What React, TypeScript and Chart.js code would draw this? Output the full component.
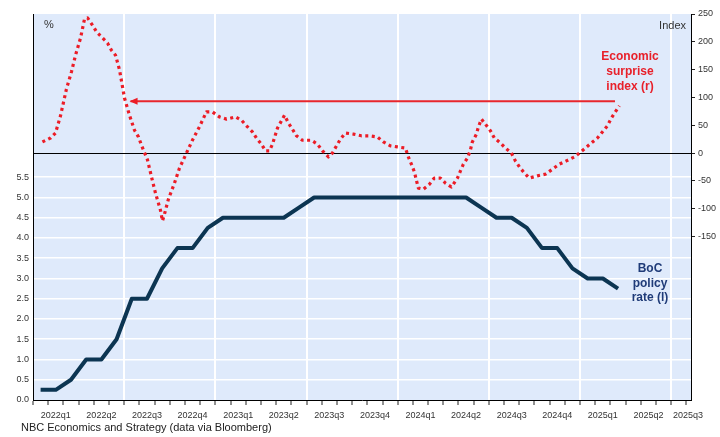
import { useEffect, useRef } from 'react';
import { Chart, registerables } from 'chart.js';

Chart.register(...registerables);

// ---- data (x positions are months since Jan 2022) ----
const quarterLabels = [
  '2022q1', '2022q2', '2022q3', '2022q4',
  '2023q1', '2023q2', '2023q3', '2023q4',
  '2024q1', '2024q2', '2024q3', '2024q4',
  '2025q1', '2025q2', '2025q3',
];

// BoC policy rate, monthly (Jan 2022 .. Mar 2025), plotted mid-month
const policyMonths = Array.from({ length: 39 }, (_, i) => i + 0.5);
const policyRate = [
  0.25, 0.25, 0.5, 1.0, 1.0, 1.5, 2.5, 2.5, 3.25, 3.75, 3.75, 4.25,
  4.5, 4.5, 4.5, 4.5, 4.5, 4.75, 5.0, 5.0, 5.0, 5.0, 5.0, 5.0,
  5.0, 5.0, 5.0, 5.0, 5.0, 4.75, 4.5, 4.5, 4.25, 3.75, 3.75, 3.25,
  3.0, 3.0, 2.75,
];

// Economic surprise index
const surpriseMonths = [
  0.62, 1.15, 1.48, 1.81, 2.2, 2.53, 2.8, 3.13, 3.39, 3.59,
  3.91, 4.18, 4.5, 4.9, 5.16, 5.43, 5.69, 6.02, 6.35, 6.68,
  6.94, 7.14, 7.53, 7.8, 8.06, 8.39, 8.52, 8.65, 8.91, 9.31,
  9.64, 10.1, 10.49, 10.95, 11.41, 11.81, 12.27, 12.73, 13.32, 13.72,
  14.05, 14.44, 14.7, 15.03, 15.3, 15.56, 15.76, 16.09, 16.35, 16.55,
  16.81, 17.07, 17.34, 17.73, 18.32, 18.72, 19.05, 19.44, 19.7, 20.23,
  20.56, 21.09, 21.61, 22.14, 22.66, 23.06, 23.52, 23.98, 24.51, 24.7,
  24.9, 25.1, 25.23, 25.36, 25.69, 26.09, 26.41, 26.81, 27.14, 27.53,
  27.66, 27.93, 28.13, 28.32, 28.59, 28.78, 28.91, 29.18, 29.31, 29.51,
  29.77, 30.1, 30.36, 30.76, 31.09, 31.48, 31.74, 32.01, 32.34, 32.66,
  33.19, 33.72, 34.18, 34.64, 35.1, 35.63, 35.95, 36.35, 36.74, 37.14,
  37.47, 37.8, 38.06, 38.32, 38.59,
];
const surpriseIndex = [
  20, 27, 36, 67, 115, 146, 176, 207, 241, 243,
  230, 218, 209, 198, 185, 176, 150, 99, 68, 41,
  29, 14, -12, -43, -72, -103, -122, -110, -83, -54,
  -27, 0, 23, 47, 74, 74, 65, 61, 65, 59,
  49, 38, 27, 16, 4, 4, 16, 45, 58, 68,
  54, 43, 31, 23, 23, 16, 4, -7, 0, 25,
  36, 34, 31, 31, 29, 20, 13, 11, 9, -7,
  -20, -34, -49, -63, -65, -56, -45, -45, -54, -61,
  -56, -45, -32, -20, -9, 5, 20, 34, 47, 61,
  52, 40, 27, 18, 9, 0, -14, -25, -36, -45,
  -41, -38, -29, -20, -14, -7, 0, 9, 18, 27,
  38, 49, 63, 74, 85,
];

// arrow (from latest reading back to the same level)
const arrowMonths = [38.3, 6.42];
const arrowLevel = 93;

const leftTicks = [0, 0.5, 1, 1.5, 2, 2.5, 3, 3.5, 4, 4.5, 5, 5.5];
const rightTicks = [-150, -100, -50, 0, 50, 100, 150, 200, 250];

const X_MAX = 43.3;
const monthTicks = Array.from({ length: 44 }, (_, i) => i);
const quarterCenters = quarterLabels.map((_, i) => Math.min(i * 3 + 1.5, 43.1));

const FONT = "'Liberation Sans', Arial, sans-serif";
const NAVY = '#0c3552';
const RED = '#ec1c26';

const decorPlugin = {
  id: 'decor',
  beforeDraw(chart: any) {
    const { ctx, chartArea: a } = chart;
    ctx.save();
    ctx.fillStyle = '#ffffff';
    ctx.fillRect(0, 0, chart.width, chart.height);
    ctx.fillStyle = '#dfeafb';
    ctx.fillRect(a.left, a.top, a.right - a.left, a.bottom - a.top);
    ctx.restore();
  },
  afterDatasetsDraw(chart: any) {
    const { ctx } = chart;
    const meta = chart.getDatasetMeta(2);
    const tip = meta.data[1];
    if (tip) {
      ctx.save();
      ctx.fillStyle = RED;
      ctx.beginPath();
      ctx.moveTo(tip.x - 1, tip.y);
      ctx.lineTo(tip.x + 7, tip.y - 3.5);
      ctx.lineTo(tip.x + 7, tip.y + 3.5);
      ctx.closePath();
      ctx.fill();
      ctx.restore();
    }
  },
  afterDraw(chart: any) {
    const { ctx } = chart;
    ctx.save();
    ctx.textBaseline = 'middle';
    ctx.font = `11px ${FONT}`;
    ctx.fillStyle = '#333';
    ctx.textAlign = 'left';
    ctx.fillText('%', 44, 25);
    ctx.textAlign = 'right';
    ctx.fillText('Index', 686, 26);

    ctx.font = `bold 12px ${FONT}`;
    ctx.textAlign = 'center';
    ctx.fillStyle = '#e8202a';
    ['Economic', 'surprise', 'index (r)'].forEach((t, i) => ctx.fillText(t, 630, 57 + i * 15));
    ctx.fillStyle = '#1f3b78';
    ['BoC', 'policy', 'rate (l)'].forEach((t, i) => ctx.fillText(t, 650, 269 + i * 14.5));

    ctx.font = `11px ${FONT}`;
    ctx.fillStyle = '#222';
    ctx.textAlign = 'left';
    ctx.textBaseline = 'alphabetic';
    ctx.fillText('NBC Economics and Strategy (data via Bloomberg)', 21, 431);
    ctx.restore();
  },
};

export default function App() {
  const ref = useRef<HTMLCanvasElement | null>(null);

  useEffect(() => {
    if (!ref.current) return;
    const chart = new Chart(ref.current, {
      type: 'line',
      data: {
        datasets: [
          {
            label: 'BoC policy rate (l)',
            data: policyMonths.map((m, i) => ({ x: m, y: policyRate[i] })),
            yAxisID: 'y',
            borderColor: NAVY,
            borderWidth: 4,
            borderJoinStyle: 'round',
            pointRadius: 0,
            tension: 0,
          },
          {
            label: 'Economic surprise index (r)',
            data: surpriseMonths.map((m, i) => ({ x: m, y: surpriseIndex[i] })),
            yAxisID: 'y1',
            borderColor: RED,
            borderWidth: 3.2,
            borderDash: [3, 3.5],
            borderCapStyle: 'butt',
            borderJoinStyle: 'round',
            pointRadius: 0,
            tension: 0,
          },
          {
            label: 'arrow',
            data: arrowMonths.map((m) => ({ x: m, y: arrowLevel })),
            yAxisID: 'y1',
            borderColor: '#e8262c',
            borderWidth: 2,
            pointRadius: 0,
          },
        ],
      },
      options: {
        animation: false,
        responsive: true,
        maintainAspectRatio: false,
        layout: { padding: { top: 14, left: 0, right: 0, bottom: 0 } },
        plugins: {
          legend: { display: false },
          tooltip: { enabled: false },
        },
        scales: {
          x: {
            type: 'linear',
            min: 0,
            max: X_MAX,
            afterBuildTicks: (s: any) => {
              const vals = [...monthTicks, ...quarterCenters].sort((a, b) => a - b);
              s.ticks = vals.map((v) => ({ value: v }));
            },
            afterFit: (s: any) => {
              s.height = 37;
            },
            ticks: {
              autoSkip: false,
              maxRotation: 0,
              minRotation: 0,
              padding: 5,
              color: '#333',
              font: { family: FONT, size: 9 },
              callback: (v: any) => {
                const idx = quarterCenters.findIndex((c) => Math.abs(c - Number(v)) < 1e-6);
                return idx >= 0 ? quarterLabels[idx] : '';
              },
            },
            grid: {
              color: (c: any) => {
                const v = c.tick ? c.tick.value : -1;
                return v > 0 && Number.isInteger(v) && v % 6 === 0 ? '#ffffff' : 'rgba(0,0,0,0)';
              },
              tickColor: (c: any) => {
                const v = c.tick ? c.tick.value : -1;
                return Number.isInteger(v) ? '#222' : 'rgba(0,0,0,0)';
              },
              lineWidth: 2,
              tickWidth: 1,
              tickLength: 5,
            },
            border: { display: true, color: '#000', width: 1 },
          },
          y: {
            type: 'linear',
            position: 'left',
            min: 0,
            max: 9.53,
            afterBuildTicks: (s: any) => {
              s.ticks = leftTicks.map((v) => ({ value: v }));
            },
            afterFit: (s: any) => {
              s.width = 33;
            },
            ticks: {
              padding: 4,
              color: '#333',
              font: { family: FONT, size: 9 },
              callback: (v: any) => Number(v).toFixed(1),
            },
            grid: {
              color: (c: any) => (c.tick && c.tick.value === 0 ? 'rgba(0,0,0,0)' : '#ffffff'),
              lineWidth: 1.5,
              drawTicks: false,
            },
            border: { display: true, color: '#000', width: 1 },
          },
          y1: {
            type: 'linear',
            position: 'right',
            min: -444,
            max: 250,
            afterBuildTicks: (s: any) => {
              s.ticks = rightTicks.map((v) => ({ value: v }));
            },
            afterFit: (s: any) => {
              s.width = 29;
            },
            ticks: {
              padding: 3,
              color: '#333',
              font: { family: FONT, size: 9 },
              callback: (v: any) => String(v),
            },
            grid: {
              color: (c: any) => (c.tick && c.tick.value === 0 ? '#000000' : 'rgba(0,0,0,0)'),
              tickColor: '#222',
              lineWidth: 1,
              tickLength: 4,
            },
            border: { display: true, color: '#000', width: 1 },
          },
        },
      },
      plugins: [decorPlugin],
    });
    return () => chart.destroy();
  }, []);

  return (
    <div style={{ position: 'absolute', left: 0, top: 0, width: 720, height: 437 }}>
      <canvas ref={ref} />
    </div>
  );
}
